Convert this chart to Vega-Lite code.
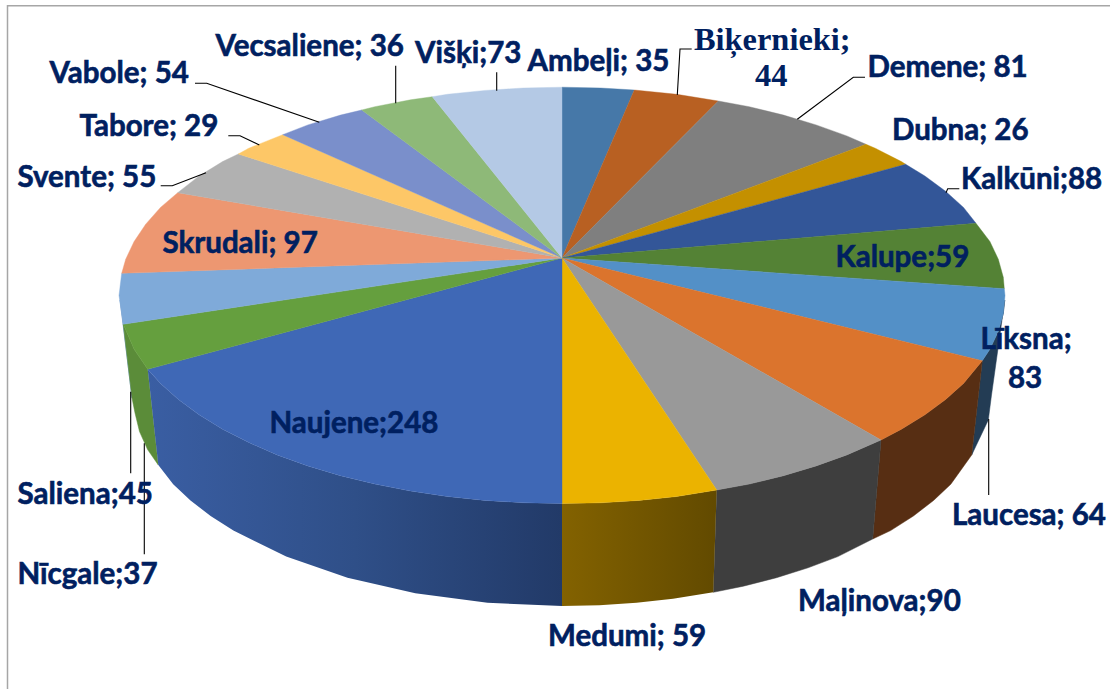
{
"$schema":"https://vega.github.io/schema/vega-lite/v6.json",
"width":1110,"height":689,"padding":0,"autosize":{"type":"none"},
"background":"white","view":{"stroke":null},
"resolve":{"scale":{"fill":"independent","stroke":"independent"}},
"datasets":{
"top":[
{"name":"Ambeļi","value":35,"x":[562,562,600.6,634.3,562],"y":[258,87.2,88,90,258]},
{"name":"Biķernieki","value":44,"x":[562,634.3,676.7,718.3,562],"y":[258,90,94.3,101,258]},
{"name":"Demene","value":81,"x":[562,718.3,749.2,783.5,816.1,846.8,866,562],"y":[258,101,106.7,115.1,124.9,135.9,144.3,258]},
{"name":"Dubna","value":26,"x":[562,866,875.2,901.4,905.7,562],"y":[258,144.3,148.2,161.6,164.3,258]},
{"name":"Kalkūni","value":88,"x":[562,905.7,924.9,945.6,963.5,976,562],"y":[258,164.3,176,191.3,207.4,223.3,258]},
{"name":"Kalupe","value":59,"x":[562,976,989.9,998.3,1003.3,1004.3,562],"y":[258,223.3,241.5,259.2,277.3,288.7,258]},
{"name":"Līksna","value":83,"x":[562,1004.3,1005,1003.3,998.3,989.9,982.3,562],"y":[258,288.7,295.4,313.5,331.6,349.3,360.7,258]},
{"name":"Laucesa","value":64,"x":[562,982.3,963.5,945.6,924.9,901.4,881,562],"y":[258,360.7,383.4,399.5,414.8,429.2,440,258]},
{"name":"Maļinova","value":90,"x":[562,881,846.8,816.1,783.5,749.2,716.7,562],"y":[258,440,454.9,465.9,475.7,484.1,490,258]},
{"name":"Medumi","value":59,"x":[562,716.7,676.7,638.9,600.6,562,562],"y":[258,490,496.5,500.4,502.8,503.6,258]},
{"name":"Naujene","value":248,"x":[562,562,523.4,485.1,447.3,410.5,374.8,340.5,307.9,277.2,248.8,222.6,199.1,178.4,160.5,147.7,562],"y":[258,503.6,502.8,500.4,496.5,491,484.1,475.7,465.9,454.9,442.6,429.2,414.8,399.5,383.4,369.3,258]},
{"name":"Nīcgale","value":37,"x":[562,147.7,134.1,123.3,562],"y":[258,369.3,349.3,324.3,258]},
{"name":"Saliena","value":45,"x":[562,123.3,119,121.7,562],"y":[258,324.3,295.4,273.3,258]},
{"name":"Skrudali","value":97,"x":[562,121.7,125.7,134.1,145.7,160.5,177.7,562],"y":[258,273.3,259.2,241.5,224.2,207.4,192.7,258]},
{"name":"Svente","value":55,"x":[562,177.7,199.1,222.6,238.3,562],"y":[258,192.7,176,161.6,154,258]},
{"name":"Tabore","value":29,"x":[562,238.3,248.8,282.7,562],"y":[258,154,148.2,134.7,258]},
{"name":"Vabole","value":54,"x":[562,282.7,307.9,340.5,361.7,562],"y":[258,134.7,124.9,115.1,110,258]},
{"name":"Vecsaliene","value":36,"x":[562,361.7,374.8,410.5,432.3,562],"y":[258,110,106.7,99.8,96.7,258]},
{"name":"Višķi","value":73,"x":[562,432.3,447.3,485.1,523.4,562,562],"y":[258,96.7,94.3,90.4,88,87.2,258]}
],
"walls":[
{"name":"Līksna","x":[982.3,989.9,998.3,1003.3,1004.8,991.5,988.3,971.7,982.3],"y":[360.7,349.3,331.6,313.5,300,395,420,455,360.7]},
{"name":"Laucesa","x":[881,901.4,924.9,945.6,963.5,982.3,971.7,950.8,933.5,913.4,890.6,872.7,881],"y":[440,429.2,414.8,399.5,383.4,360.7,455,484.2,500.5,516,530.6,539,440]},
{"name":"Maļinova","x":[716.7,749.2,783.5,816.1,846.8,881,872.7,837.8,808,776.5,743.3,713.3,716.7],"y":[490,484.1,475.7,465.9,454.9,440,539,556.6,567.8,577.7,586.2,592.3,490]},
{"name":"Saliena","x":[123.3,120,132,123.3],"y":[324.3,300,398,324.3]},
{"name":"Nīcgale","x":[147.7,134.1,123.3,132,135,139.5,147.6,158.3,147.7],"y":[369.3,349.3,324.3,398,413,431.6,449.6,465,369.3]}
],
"wallMedumi":[
{"name":"Medumi","x":[562,600.6,638.9,676.7,716.7,713.3,673,636.5,599.4,562,562],"y":[503.6,502.8,500.4,496.5,490,592.3,598.8,602.8,605.2,606,503.6]}
],
"wallNaujene":[
{"name":"Naujene","x":[562,523.4,485.1,447.3,410.5,374.8,340.5,307.9,277.2,248.8,222.6,199.1,178.4,160.5,147.7,158.3,173.2,190.5,210.6,233.4,286.2,347.5,415.3,487.5,562,562],"y":[503.6,502.8,500.4,496.5,491,484.1,475.7,465.9,454.9,442.6,429.2,414.8,399.5,383.4,369.3,465,484.2,500.5,516,530.6,556.6,577.7,593.3,602.8,606,503.6]}
],
"leaders":[
{"name":"Vabole","x":[195,206.7,319.3],"y":[83.3,83.3,122.3]},
{"name":"Tabore","x":[228.3,240,259.3],"y":[135.7,135.7,145]},
{"name":"Svente","x":[160.7,172.3,206],"y":[185.7,185.7,172.7]},
{"name":"Vecsaliene","x":[395.7,395.7],"y":[65.7,103.3]},
{"name":"Višķi","x":[496.7,496.7],"y":[72.3,90.7]},
{"name":"Biķernieki","x":[691.7,680,677.3],"y":[49,49,95]},
{"name":"Demene","x":[865,853.3,797.3],"y":[77.3,77.3,119.3]},
{"name":"Kalkūni","x":[959.3,947.7,946],"y":[188.7,188.7,192.7]},
{"name":"Laucesa","x":[988.7,988.7],"y":[495,419]},
{"name":"Saliena","x":[130.7,130.7],"y":[473.3,391.7]},
{"name":"Nīcgale","x":[144.3,144.3],"y":[554.3,443.3]}
],
"frame":[{"name":"frame","x":[7.5,7.5,1110],"y":[689,5.7,5.7]}],
"labels":[
{"label":"Vecsaliene; 36","x":215.5,"y":55.5},
{"label":"Vabole; 54","x":49.5,"y":82.5},
{"label":"Tabore; 29","x":79.5,"y":135.5},
{"label":"Svente; 55","x":17.5,"y":186.5},
{"label":"Skrudali; 97","x":162.5,"y":252.5},
{"label":"Višķi;73","x":415,"y":62.5},
{"label":"Ambeļi; 35","x":527.5,"y":70.5},
{"label":"Demene; 81","x":867.5,"y":76.5},
{"label":"Dubna; 26","x":892,"y":139.5},
{"label":"Kalkūni;88","x":961,"y":188.5},
{"label":"Kalupe;59","x":835.5,"y":266.5},
{"label":"Līksna;","x":980.5,"y":348.5},
{"label":"83","x":1008,"y":387.5},
{"label":"Laucesa; 64","x":952,"y":524.5},
{"label":"Maļinova;90","x":798,"y":610.5},
{"label":"Medumi; 59","x":548,"y":645.5},
{"label":"Naujene;248","x":269.5,"y":432.5},
{"label":"Saliena;45","x":17.5,"y":503.5},
{"label":"Nīcgale;37","x":17.5,"y":583.5}
],
"labelsSerif":[
{"label":"Biķernieki;","x":694,"y":50},
{"label":"44","x":755,"y":86}
]
},
"encoding":{
"x":{"field":"x","type":"quantitative","scale":{"domain":[0,1110],"nice":false,"zero":false},"axis":null},
"y":{"field":"y","type":"quantitative","scale":{"domain":[689,0],"nice":false,"zero":false},"axis":null}
},
"layer":[
{"data":{"name":"frame"},
"transform":[{"flatten":["x","y"]},{"window":[{"op":"row_number","as":"o"}],"groupby":["name"]}],
"mark":{"type":"line","stroke":"#a6a6a6","strokeWidth":1.5},
"encoding":{"order":{"field":"o","type":"quantitative"}}},
{"data":{"name":"walls"},
"transform":[{"flatten":["x","y"]},{"window":[{"op":"row_number","as":"o"}],"groupby":["name"]}],
"mark":{"type":"line","filled":true,"strokeWidth":0.5},
"encoding":{"order":{"field":"o","type":"quantitative"},
"fill":{"field":"name","type":"nominal","legend":null,"scale":{"domain":["Līksna","Laucesa","Maļinova","Saliena","Nīcgale"],"range":["#233c54","#572e13","#3e3e3e","#6d96c6","#5b8c39"]}},
"stroke":{"field":"name","type":"nominal","legend":null,"scale":{"domain":["Līksna","Laucesa","Maļinova","Saliena","Nīcgale"],"range":["#233c54","#572e13","#3e3e3e","#6d96c6","#5b8c39"]}}}},
{"data":{"name":"wallMedumi"},
"transform":[{"flatten":["x","y"]},{"window":[{"op":"row_number","as":"o"}],"groupby":["name"]}],
"mark":{"type":"line","filled":true,"strokeWidth":0,"fill":{"gradient":"linear","x1":0,"y1":0,"x2":1,"y2":0,"stops":[{"offset":0,"color":"#836200"},{"offset":1,"color":"#624a00"}]}},
"encoding":{"order":{"field":"o","type":"quantitative"}}},
{"data":{"name":"wallNaujene"},
"transform":[{"flatten":["x","y"]},{"window":[{"op":"row_number","as":"o"}],"groupby":["name"]}],
"mark":{"type":"line","filled":true,"strokeWidth":0,"fill":{"gradient":"linear","x1":0,"y1":0,"x2":1,"y2":0,"stops":[{"offset":0,"color":"#3a5ea3"},{"offset":0.5,"color":"#2f4f88"},{"offset":1,"color":"#223a68"}]}},
"encoding":{"order":{"field":"o","type":"quantitative"}}},
{"data":{"name":"top"},
"transform":[{"flatten":["x","y"]},{"window":[{"op":"row_number","as":"o"}],"groupby":["name"]}],
"mark":{"type":"line","filled":true,"strokeWidth":0.4},
"encoding":{"order":{"field":"o","type":"quantitative"},
"fill":{"field":"name","type":"nominal","legend":null,"scale":{"domain":["Ambeļi","Biķernieki","Demene","Dubna","Kalkūni","Kalupe","Līksna","Laucesa","Maļinova","Medumi","Naujene","Nīcgale","Saliena","Skrudali","Svente","Tabore","Vabole","Vecsaliene","Višķi"],"range":["#4678a8","#b86022","#7f7f7f","#c49000","#335698","#548235","#5390c7","#db742d","#999999","#ebb300","#3f68b6","#659f3e","#7faad9","#ed9771","#b1b1b1","#fdc767","#7a8fcb","#8eb978","#b4c9e5"]}},
"stroke":{"field":"name","type":"nominal","legend":null,"scale":{"domain":["Ambeļi","Biķernieki","Demene","Dubna","Kalkūni","Kalupe","Līksna","Laucesa","Maļinova","Medumi","Naujene","Nīcgale","Saliena","Skrudali","Svente","Tabore","Vabole","Vecsaliene","Višķi"],"range":["#4678a8","#b86022","#7f7f7f","#c49000","#335698","#548235","#5390c7","#db742d","#999999","#ebb300","#3f68b6","#659f3e","#7faad9","#ed9771","#b1b1b1","#fdc767","#7a8fcb","#8eb978","#b4c9e5"]}}}},
{"data":{"name":"leaders"},
"transform":[{"flatten":["x","y"]},{"window":[{"op":"row_number","as":"o"}],"groupby":["name"]}],
"mark":{"type":"line","stroke":"#000000","strokeWidth":1.1},
"encoding":{"detail":{"field":"name"},"order":{"field":"o","type":"quantitative"}}},
{"data":{"name":"labels"},
"mark":{"type":"text","align":"left","baseline":"alphabetic","font":"Lato","fontWeight":"bold","fontSize":29.5,"fill":"#002060","stroke":"#002060","strokeWidth":0.6},
"encoding":{"text":{"field":"label"}}},
{"data":{"name":"labelsSerif"},
"mark":{"type":"text","align":"left","baseline":"alphabetic","font":"Liberation Serif","fontWeight":"bold","fontSize":32.4,"fill":"#002060"},
"encoding":{"text":{"field":"label"}}}
]
}
